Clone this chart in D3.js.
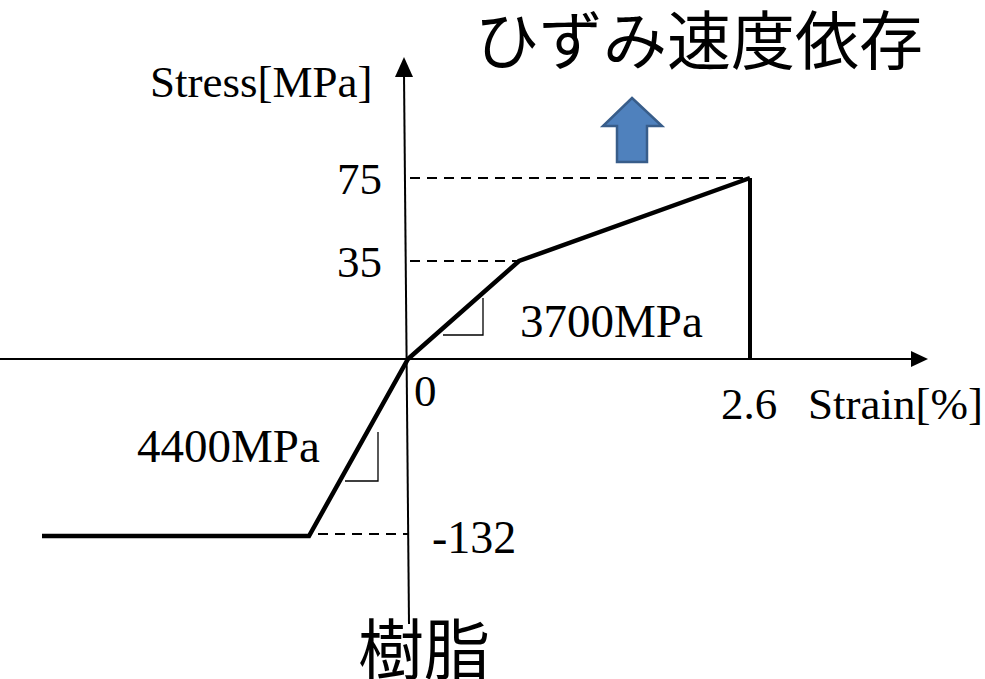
<!DOCTYPE html>
<html>
<head>
<meta charset="utf-8">
<script src="https://cdn.jsdelivr.net/npm/d3@7/dist/d3.min.js"></script>
<style>
  html, body { margin: 0; padding: 0; background: #fff; }
  svg { display: block; }
</style>
</head>
<body>
<svg id="chart" width="985" height="679"></svg>
<script>
// Bilinear stress-strain model for the resin (schematic, not to scale)
const strainPts = [-5.5, -3.0, 0, 0.95, 2.6];      // strain [%]
const stressPts = [-132, -132, 0, 35, 75];          // stress [MPa]
const stressTicks = ["75", "35", "-132"];
const stressTickValues = [75, 35, -132];
const moduli = ["3700MPa", "4400MPa"];
const titleTop = "ひずみ速度依存";
const titleBottom = "樹脂";

const svg = d3.select("#chart");
const serif = "'Liberation Serif', 'Times New Roman', serif";
const cjk = "'Noto Sans CJK JP', 'Noto Sans', sans-serif";

// Piecewise scales: the diagram is drawn schematically
const x = d3.scaleLinear()
  .domain([-5.5, -3.0, 0, 0.95, 2.6])
  .range([42, 309, 408, 519, 750]);
const y = d3.scaleLinear()
  .domain([-132, 0, 35, 75])
  .range([536, 359, 261, 178]);

// Axes
const x0 = x(0), y0 = y(0);
svg.append("line")
  .attr("x1", 0).attr("y1", y0).attr("x2", 914).attr("y2", y0)
  .attr("stroke", "#000").attr("stroke-width", 2);
svg.append("path")
  .attr("d", `M928,${y0} L911,${y0 - 8} L911,${y0 + 8} Z`)
  .attr("fill", "#000");
svg.append("line")
  .attr("x1", 404).attr("y1", 74).attr("x2", 409).attr("y2", 624)
  .attr("stroke", "#000").attr("stroke-width", 2);
svg.append("path")
  .attr("d", `M404,57 L395,77 L413,77 Z`)
  .attr("fill", "#000");

// Dashed guide lines
const dash = svg.append("g")
  .attr("stroke", "#000").attr("stroke-width", 1.8)
  .attr("stroke-dasharray", "10,7").attr("fill", "none");
dash.append("line")
  .attr("x1", 410).attr("y1", y(75)).attr("x2", x(2.6)).attr("y2", y(75));
dash.append("line")
  .attr("x1", 410).attr("y1", y(35)).attr("x2", x(0.95)).attr("y2", y(35));
dash.append("line")
  .attr("x1", x(-3.0) + 9).attr("y1", y(-132) - 2).attr("x2", 408).attr("y2", y(-132) - 2);

// Stress-strain curve
const pts = strainPts.map((s, i) => [s, stressPts[i]]);
const line = d3.line().x(d => x(d[0])).y(d => y(d[1]));
svg.append("path")
  .datum(pts)
  .attr("d", line)
  .attr("fill", "none").attr("stroke", "#000")
  .attr("stroke-width", 4.5).attr("stroke-linejoin", "miter");
// Fracture drop at 2.6 %
svg.append("path")
  .datum([[2.6, 75], [2.6, 0]])
  .attr("d", line)
  .attr("fill", "none").attr("stroke", "#000").attr("stroke-width", 4);

// Slope triangles
svg.append("path")
  .attr("d", "M443,335 L483,335 L483,298")
  .attr("fill", "none").attr("stroke", "#000").attr("stroke-width", 1.3);
svg.append("path")
  .attr("d", "M345,481 L378,481 L378,432")
  .attr("fill", "none").attr("stroke", "#000").attr("stroke-width", 1.3);

// Text labels
const txt = (t, px, py, size, anchor, font) =>
  svg.append("text").text(t)
    .attr("x", px).attr("y", py)
    .attr("font-family", font || serif)
    .attr("font-size", size)
    .attr("text-anchor", anchor || "start")
    .attr("fill", "#000");

txt("Stress[MPa]", 150, 97, 45);
stressTickValues.forEach((v, i) => {
  if (v > 0) txt(stressTicks[i], 382, y(v) + 16, 45, "end");
  else txt(stressTicks[i], 432, y(v) + 17, 46, "start");
});
txt("0", 414, 406, 45);
txt("2.6", 749, 419, 45, "middle");
txt("Strain[%]", 808, 419, 45);
txt(moduli[0], 520, 337, 47);
txt(moduli[1], 137, 462, 47);
txt(titleTop, 699, 64, 64, "middle", cjk);
txt(titleBottom, 424, 674, 66, "middle", cjk);

// Blue arrow indicating increase with strain rate
svg.append("path")
  .attr("d", "M632,98 L662,126 L647,126 L647,162 L617,162 L617,126 L603,126 Z")
  .attr("fill", "#4F81BD").attr("stroke", "#385D8A")
  .attr("stroke-width", 2.5).attr("stroke-linejoin", "miter");
</script>
</body>
</html>
